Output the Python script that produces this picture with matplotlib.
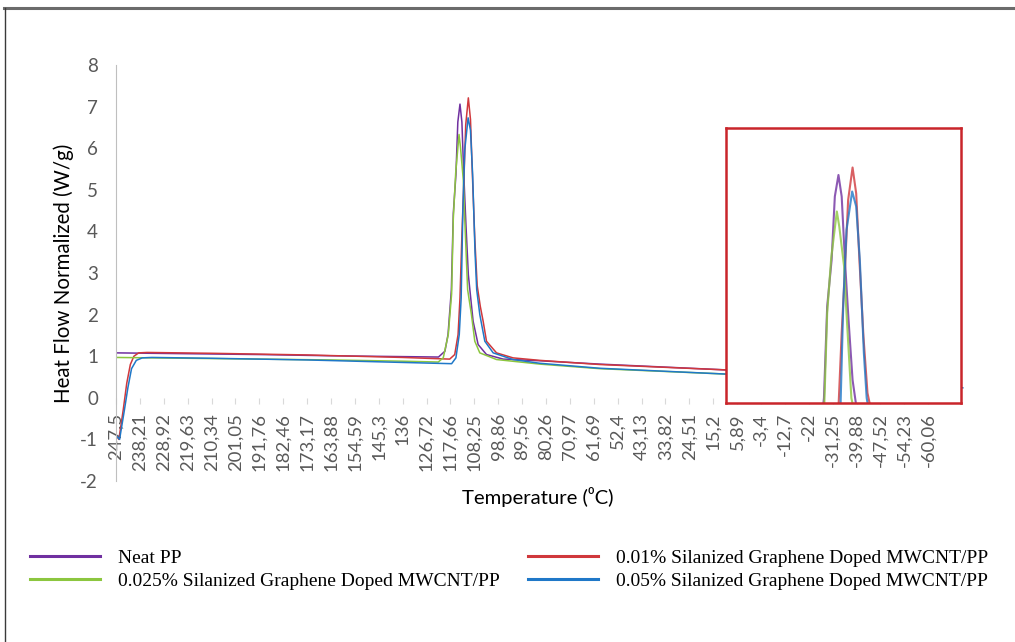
import matplotlib
matplotlib.use('Agg')
from matplotlib import pyplot as plt
from matplotlib.lines import Line2D

plt.rcParams['axes.unicode_minus'] = False

# temperature labels on the category axis (one every 'step' of position)
temp_labels = ['247,5', '238,21', '228,92', '219,63', '210,34', '201,05', '191,76',
               '182,46', '173,17', '163,88', '154,59', '145,3', '136', '126,72',
               '117,66', '108,25', '98,86', '89,56', '80,26', '70,97', '61,69',
               '52,4', '43,13', '33,82', '24,51', '15,2', '5,89', '-3,4', '-12,7',
               '-22', '-31,25', '-39,88', '-47,52', '-54,23', '-60,06']

# series: position along category axis, heat flow (W/g)
neat_x = [0, 3, 6, 9, 12, 13.5, 13.77, 13.9, 14.04, 14.12, 14.23, 14.31, 14.4, 14.48,
          14.56, 14.65, 14.75, 14.81, 14.95, 15.16, 15.51, 16.21, 17.74, 20.25, 25.55,
          30, 35.3]
neat_y = [1.08, 1.06, 1.04, 1.01, 0.99, 0.98, 1.12, 1.52, 2.6, 4.43, 5.36, 6.63, 7.06,
          6.63, 5.36, 4.16, 2.96, 2.62, 1.84, 1.28, 1.04, 0.93, 0.89, 0.81, 0.67,
          0.55, 0.40]

p01_x = [0, 0.12, 0.3, 0.45, 0.6, 0.75, 0.95, 1.3, 4, 8, 12, 13.97, 14.18, 14.32,
         14.4, 14.48, 14.56, 14.64, 14.75, 14.84, 14.92, 15.02, 15.12, 15.25, 15.37,
         15.51, 15.93, 16.62, 17.74, 20.25, 25.55, 30, 35.3]
p01_y = [-0.9, -1.0, -0.3, 0.35, 0.8, 1.0, 1.08, 1.09, 1.07, 1.03, 0.97, 0.93, 1.04,
         1.52, 2.4, 3.9, 5.16, 6.56, 7.21, 6.69, 5.36, 3.83, 2.7, 2.2, 1.84, 1.36,
         1.08, 0.96, 0.90, 0.80, 0.67, 0.55, 0.40]

p025_x = [0, 3, 6, 9, 12, 13.49, 13.7, 13.91, 14.05, 14.12, 14.22, 14.36, 14.42,
          14.54, 14.59, 14.72, 14.88, 15.02, 15.23, 15.93, 17.74, 20.25, 25.55, 30, 35.3]
p025_y = [0.97, 0.95, 0.93, 0.91, 0.88, 0.86, 0.96, 1.52, 2.5, 4.3, 5.4, 6.33, 6.03,
          5.23, 4.43, 2.6, 2.0, 1.36, 1.08, 0.92, 0.81, 0.70, 0.57, 0.45, 0.35]

p05_x = [0, 0.15, 0.35, 0.5, 0.65, 0.85, 1.1, 1.5, 4, 8, 12, 14.05, 14.23, 14.37,
         14.45, 14.52, 14.6, 14.74, 14.84, 14.93, 15.03, 15.1, 15.23, 15.44, 15.79,
         16.62, 17.74, 20.25, 25.55, 30, 35.45]
p05_y = [-0.9, -1.0, -0.3, 0.25, 0.7, 0.9, 0.96, 0.97, 0.95, 0.91, 0.85, 0.82, 0.96,
         1.52, 2.4, 4.5, 5.96, 6.73, 6.43, 5.36, 3.5, 2.6, 2.0, 1.36, 1.08, 0.92,
         0.83, 0.71, 0.57, 0.45, 0.24]

names = ['Neat PP',
         '0.01% Silanized Graphene Doped MWCNT/PP',
         '0.025% Silanized Graphene Doped MWCNT/PP',
         '0.05% Silanized Graphene Doped MWCNT/PP']
colors = ['#7030A0', '#D0383C', '#8CC63F', '#1F78C8']
series = [(neat_x, neat_y), (p01_x, p01_y), (p025_x, p025_y), (p05_x, p05_y)]

W, H = 1015, 642
fig = plt.figure(figsize=(W / 100, H / 100), dpi=100)
fig.patch.set_facecolor('white')

# main chart
ax = fig.add_axes([116 / W, 1 - 481 / H, 848 / W, 416 / H])
for (xs, ys), c in zip(series, colors):
    ax.plot(xs, ys, color=c, lw=1.1)

ax.set_xlim(0, 35.5)
ax.set_ylim(-2, 8)
ax.set_yticks(range(-2, 9))
ax.set_xticks(range(len(temp_labels)))
ax.set_xticklabels(temp_labels)
for s in ['top', 'right']:
    ax.spines[s].set_visible(False)
ax.spines['left'].set_color('#BFBFBF')
ax.spines['bottom'].set_position(('data', 0))
ax.spines['bottom'].set_color('none')
ax.tick_params(axis='y', length=0, pad=13, labelsize=13.5, labelcolor='#595959')
ax.tick_params(axis='x', length=4, color='#D9D9D9', pad=7, labelsize=13.3,
               labelcolor='#595959', labelrotation=90)
for lab in ax.get_xticklabels() + ax.get_yticklabels():
    lab.set_family('Lato')

fig.text(64 / W, 1 - 273 / H, 'Heat Flow Normalized (W/g)', rotation=90,
         ha='center', va='center', fontsize=14.8, family=['Lato', 'DejaVu Sans'])
fig.text(538 / W, 1 - 497 / H, 'Temperature (\u2070C)', ha='center', va='center',
         fontsize=14.6, family=['Lato', 'DejaVu Sans'])

# zoomed inset of the crystallisation peaks
ins = fig.add_axes([726 / W, 1 - 403 / H, 235 / W, 275 / H])
for (xs, ys), c in zip(series, colors):
    ins.plot(xs, ys, color=c, lw=1.5, alpha=0.8)
ins.set_xlim(11.61, 17.44)
ins.set_ylim(2.5, 8.0)
ins.set_xticks([])
ins.set_yticks([])
for s in ins.spines.values():
    s.set_color('#C9252B')
    s.set_linewidth(1.8)

# legend (two columns, serif font)
proxies = [Line2D([], [], color=c, lw=2.2) for c in colors]
order = [0, 2, 1, 3]
fig.legend([proxies[i] for i in order], [names[i] for i in order],
           loc='upper left', bbox_to_anchor=(30 / W, 1 - 549 / H), ncol=2,
           frameon=False, prop={'family': 'Liberation Serif', 'size': 14},
           handlelength=3.6, handletextpad=0.9, columnspacing=1.5,
           labelspacing=0.3, borderpad=0, borderaxespad=0)

# page frame lines
fig.add_artist(Line2D([4 / W, 1], [1 - 7.5 / H, 1 - 7.5 / H], color='#6B6B6B', lw=2.2,
                      transform=fig.transFigure))
fig.add_artist(Line2D([4.5 / W, 4.5 / W], [0, 1 - 7.5 / H], color='#3A3A3A', lw=1.0,
                      transform=fig.transFigure))

plt.savefig('out.png', dpi=100)
